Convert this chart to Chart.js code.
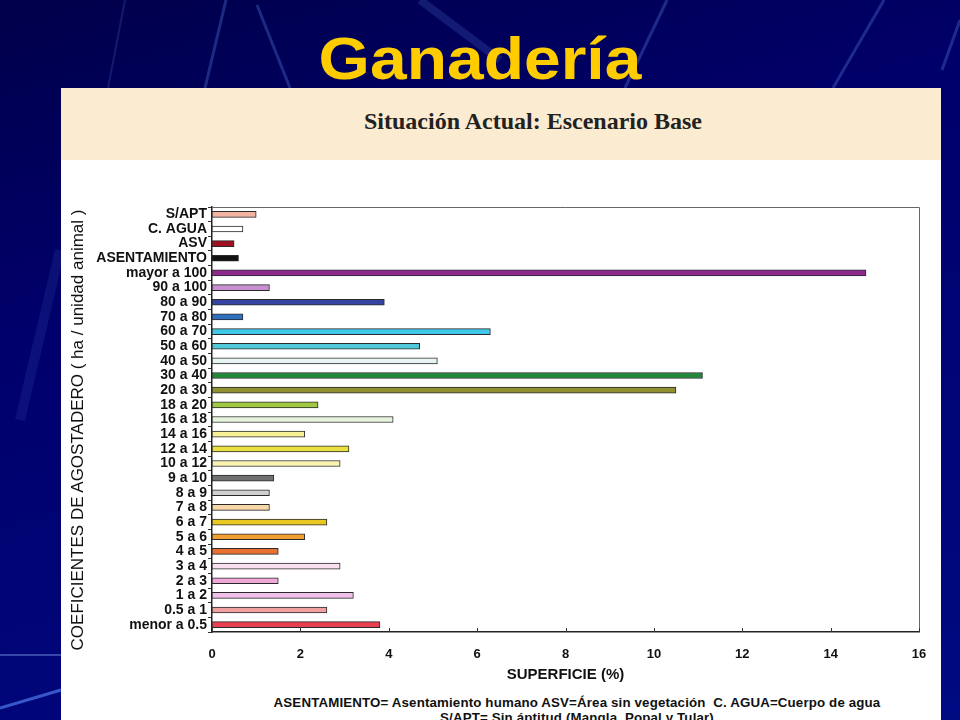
<!DOCTYPE html>
<html><head><meta charset="utf-8">
<script src="https://cdn.jsdelivr.net/npm/chart.js@4.4.0/dist/chart.umd.min.js"></script>
<style>
html,body{margin:0;padding:0;width:960px;height:720px;overflow:hidden;}
body{position:relative;background:linear-gradient(165deg,#00004a 0%,#00006c 35%,#000a82 100%);font-family:"Liberation Sans",Arial,sans-serif;}
#bg{position:absolute;left:0;top:0;}
#title{position:absolute;left:0;width:960px;top:29px;text-align:center;color:#ffcc00;font-weight:bold;font-size:60px;line-height:60px;transform:scaleX(1.1);}
#panel{position:absolute;left:61px;top:88px;width:880px;height:632px;background:#ffffff;}
#header{position:absolute;left:0;top:0;width:880px;height:72px;background:#fbebd0;}
#sub{position:absolute;left:472px;top:19px;transform:translateX(-50%);white-space:nowrap;font-family:"Liberation Serif","Times New Roman",serif;font-weight:bold;font-size:24px;line-height:28px;color:#222;}
#wrap{position:absolute;left:0;top:72px;width:880px;height:530px;}
#ytitle{position:absolute;left:-157px;top:419px;width:470px;height:22px;line-height:22px;text-align:center;transform:rotate(-90deg);font-size:17px;color:#111;white-space:nowrap;}
.foot{position:absolute;left:0;width:1154px;text-align:center;font-weight:bold;font-size:13.3px;color:#111;white-space:nowrap;letter-spacing:0.15px;}
</style></head>
<body>
<svg id="bg" width="960" height="720">
  <g stroke="rgba(90,130,230,0.32)" fill="none">
    <line x1="226" y1="0" x2="205" y2="88" stroke-width="3"/>
    <line x1="257" y1="5" x2="290" y2="88" stroke-width="3"/>
    <line x1="420" y1="0" x2="500" y2="60" stroke-width="8" stroke="rgba(90,130,230,0.2)"/>
    <line x1="667" y1="0" x2="625" y2="88" stroke-width="3"/>
    <line x1="884" y1="0" x2="833" y2="88" stroke-width="3"/>
    <line x1="125" y1="0" x2="108" y2="88" stroke-width="2" stroke="rgba(90,130,230,0.2)"/>
    <line x1="60" y1="250" x2="20" y2="420" stroke-width="10" stroke="rgba(90,130,230,0.12)"/>
    <line x1="0" y1="655" x2="61" y2="655" stroke-width="2" stroke="rgba(120,150,230,0.45)"/>
    <line x1="0" y1="708" x2="61" y2="690" stroke-width="3" stroke="rgba(90,140,255,0.6)"/>
    <line x1="960" y1="20" x2="942" y2="70" stroke-width="3"/>
  </g>
</svg>
<div id="title">Ganadería</div>
<div id="panel">
  <div id="header"><div id="sub">Situación Actual: Escenario Base</div></div>
  <div id="wrap"><canvas id="c"></canvas></div>
  <div class="foot" style="left:-61px;top:607px;">ASENTAMIENTO= Asentamiento humano ASV=Área sin vegetación&nbsp; C. AGUA=Cuerpo de agua</div>
  <div class="foot" style="left:-61px;top:622px;">S/APT= Sin áptitud (Mangla, Popal y Tular)</div>
</div>
<div id="ytitle">COEFICIENTES DE AGOSTADERO ( ha / unidad animal )</div>
<script>
const categories = ['S/APT','C. AGUA','ASV','ASENTAMIENTO','mayor a 100','90 a 100','80 a 90','70 a 80','60 a 70','50 a 60','40 a 50','30 a 40','20 a 30','18 a 20','16 a 18','14 a 16','12 a 14','10 a 12','9 a 10','8 a 9','7 a 8','6 a 7','5 a 6','4 a 5','3 a 4','2 a 3','1 a 2','0.5 a 1','menor a 0.5'];
const superficie = [1.0,0.7,0.5,0.6,14.8,1.3,3.9,0.7,6.3,4.7,5.1,11.1,10.5,2.4,4.1,2.1,3.1,2.9,1.4,1.3,1.3,2.6,2.1,1.5,2.9,1.5,3.2,2.6,3.8];
const barColors = ['#f4b4a4','#ffffff','#a01020','#111111','#8e2a8e','#c890d0','#3444a0','#3070c0','#40c8e8','#50c8d8','#e6f4f4','#208838','#909030','#a0c840','#e6f4dc','#f8f094','#e8e040','#f8f4b0','#707070','#d0d0d0','#f8d8a8','#e8c820','#f0a030','#e87030','#f8e0f0','#f0a8d8','#f0c0e8','#f0a0a0','#e84050'];
const xTickValues = [0,2,4,6,8,10,12,14,16];

const frame = {
  id:'frame',
  afterDatasetsDraw(chart){
    const {ctx, chartArea:a, scales:{x}} = chart;
    ctx.save();
    ctx.strokeStyle='#666'; ctx.lineWidth=1;
    ctx.beginPath();
    ctx.moveTo(a.left, a.top+0.5); ctx.lineTo(a.right+0.5, a.top+0.5); ctx.lineTo(a.right+0.5, a.bottom);
    ctx.stroke();
    ctx.strokeStyle='#333';
    xTickValues.forEach(v=>{
      const px = Math.round(x.getPixelForValue(v))+0.5;
      ctx.beginPath(); ctx.moveTo(px, a.bottom); ctx.lineTo(px, a.bottom-4); ctx.stroke();
    });
    ctx.restore();
  }
};

new Chart(document.getElementById('c'), {
  type:'bar',
  data:{labels:categories, datasets:[{data:superficie, backgroundColor:barColors, borderColor:'#2a2a2a', borderWidth:1, barThickness:6, borderSkipped:false}]},
  options:{
    indexAxis:'y', responsive:true, maintainAspectRatio:false, animation:false,
    layout:{padding:{top:47,right:22,left:0,bottom:0}},
    plugins:{legend:{display:false}, tooltip:{enabled:false}},
    scales:{
      y:{
        afterFit(s){ s.width = 151; },
        grid:{display:true, drawOnChartArea:false, drawTicks:true, tickLength:4, offset:true, color:'#333'},
        border:{display:true, color:'#222', width:1.5},
        ticks:{padding:1, color:'#111', font:{family:'"Liberation Sans", Arial, sans-serif', size:14, weight:'bold'}, autoSkip:false}
      },
      x:{
        min:0, max:16,
        afterFit(s){ s.height = 58; },
        grid:{display:false},
        border:{display:true, color:'#222', width:1.5},
        ticks:{stepSize:2, padding:7, color:'#111', font:{family:'"Liberation Sans", Arial, sans-serif', size:13, weight:'bold'}},
        title:{display:true, text:'SUPERFICIE (%)', color:'#111', padding:6, font:{family:'"Liberation Sans", Arial, sans-serif', size:15, weight:'bold'}}
      }
    }
  },
  plugins:[frame]
});
</script>
</body></html>
